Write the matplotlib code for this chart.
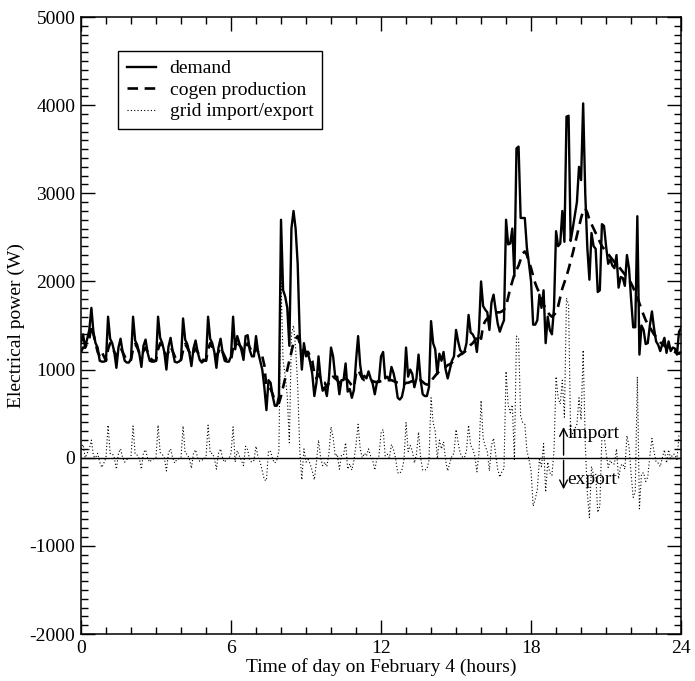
import numpy as np
import matplotlib
matplotlib.use("Agg")
import matplotlib.pyplot as plt
from matplotlib.ticker import MultipleLocator

# 5-minute readings, one row per hour (12 values), plus the final midnight value
demand = [
    1300, 1400, 1250, 1350, 1450, 1700, 1420, 1300, 1250, 1100, 1090, 1090,
    1100, 1600, 1350, 1300, 1200, 1020, 1250, 1350, 1200, 1100, 1080, 1080,
    1120, 1600, 1330, 1280, 1180, 1030, 1270, 1340, 1190, 1100, 1090, 1090,
    1100, 1600, 1360, 1300, 1200, 1000, 1260, 1360, 1210, 1090, 1080, 1090,
    1110, 1580, 1340, 1290, 1190, 1040, 1240, 1330, 1200, 1110, 1080, 1100,
    1100, 1600, 1350, 1300, 1200, 1020, 1250, 1350, 1190, 1100, 1090, 1090,
    1150, 1600, 1230, 1380, 1300, 1220, 1110, 1380, 1390, 1220, 1150, 1150,
    1380, 1200, 1100, 1000, 800, 540, 880, 850, 700, 590, 590, 700,
    2700, 1900, 1830, 1700, 1270, 2600, 2800, 2600, 2200, 1380, 1000, 1300,
    1150, 1180, 1080, 950, 700, 850, 1150, 900, 760, 800, 700, 900,
    1250, 1150, 920, 920, 720, 880, 880, 1070, 750, 780, 680, 770,
    1100, 1380, 1050, 900, 930, 900, 980, 900, 840, 720, 850, 880,
    1150, 1200, 900, 920, 880, 1030, 960, 850, 680, 660, 690, 800,
    1250, 920, 1000, 950, 800, 900, 1170, 880, 720, 700, 700, 800,
    1550, 1300, 1230, 950, 1180, 1100, 1200, 1000, 900, 1000, 1100, 1150,
    1450, 1320, 1220, 1190, 1200, 1300, 1620, 1420, 1400, 1350, 1200, 1450,
    2000, 1720, 1680, 1650, 1450, 1760, 1850, 1680, 1520, 1430, 1500, 1560,
    2700, 2420, 2430, 2600, 2060, 3510, 3530, 2720, 2720, 2720, 2380, 2200,
    2000, 1510, 1510, 1560, 1850, 1700, 1900, 1300, 1600, 1450, 1400, 1700,
    2570, 2400, 2430, 2800, 2450, 3870, 3880, 2460, 2600, 2750, 2900, 3300,
    3150, 4020, 3000, 2380, 2020, 2550, 2400, 2370, 1880, 1900, 2650, 2630,
    2400, 2200, 2250, 2180, 2150, 2300, 1930, 2050, 2040, 1950, 2300, 2150,
    1800, 1480, 1480, 2740, 1170, 1500, 1450, 1290, 1300, 1500, 1660, 1470,
    1320, 1280, 1210, 1290, 1360, 1190, 1320, 1210, 1250, 1240, 1170, 1430,
    1470,
]

cogen = [
    1200, 1250, 1250, 1300, 1350, 1500, 1400, 1300, 1200, 1150, 1200, 1150,
    1100, 1230, 1300, 1250, 1200, 1150, 1200, 1250, 1200, 1150, 1100, 1100,
    1110, 1240, 1290, 1250, 1190, 1160, 1210, 1250, 1200, 1150, 1110, 1100,
    1100, 1230, 1300, 1260, 1200, 1150, 1200, 1260, 1210, 1150, 1100, 1100,
    1110, 1220, 1290, 1250, 1200, 1160, 1190, 1240, 1200, 1150, 1110, 1110,
    1100, 1230, 1300, 1250, 1200, 1150, 1200, 1250, 1200, 1150, 1100, 1100,
    1100, 1250, 1280, 1300, 1280, 1250, 1200, 1250, 1300, 1250, 1200, 1180,
    1250, 1200, 1150, 1150, 1050, 800, 800, 780, 720, 650, 620, 620,
    700, 800, 900, 1000, 1100, 1200, 1300, 1350, 1380, 1300, 1250, 1200,
    1200, 1200, 1150, 1100, 950, 900, 950, 900, 850, 850, 800, 850,
    900, 920, 900, 880, 850, 850, 850, 900, 880, 850, 820, 800,
    950, 1000, 950, 900, 880, 880, 880, 880, 870, 860, 860, 860,
    870, 880, 880, 880, 880, 880, 870, 860, 850, 840, 830, 830,
    850, 850, 860, 870, 860, 860, 880, 880, 860, 840, 830, 830,
    870, 900, 930, 960, 980, 1000, 1020, 1030, 1050, 1060, 1080, 1100,
    1130, 1150, 1170, 1180, 1200, 1220, 1250, 1280, 1300, 1330, 1360, 1400,
    1350, 1500, 1550, 1580, 1600, 1620, 1630, 1640, 1650, 1650, 1660, 1680,
    1720, 1820, 1920, 2000, 2080, 2130, 2180, 2250, 2320, 2340, 2300, 2220,
    2150, 2060, 1980, 1920, 1870, 1800, 1740, 1690, 1650, 1620, 1600, 1620,
    1650, 1720, 1820, 1920, 1990, 2060, 2140, 2230, 2320, 2420, 2520, 2620,
    2720, 2800, 2830, 2780, 2700, 2650, 2600, 2550, 2500, 2450, 2400, 2370,
    2340, 2310, 2280, 2250, 2220, 2200, 2170, 2140, 2110, 2080, 2050, 2020,
    1980, 1930, 1870, 1820, 1750, 1680, 1620, 1560, 1520, 1480, 1440, 1400,
    1370, 1340, 1310, 1290, 1270, 1250, 1230, 1220, 1210, 1200, 1190, 1180,
    1200,
]

labels = ["demand", "cogen production", "grid import/export"]

demand = np.array(demand, dtype=float)
cogen = np.array(cogen, dtype=float)
grid = demand - cogen                      # positive = import, negative = export
hours = np.arange(len(demand)) * 5 / 60.0  # 5-minute samples

plt.rcParams['font.family'] = ['Liberation Serif', 'DejaVu Serif']
plt.rcParams['font.size'] = 14
plt.rcParams['axes.unicode_minus'] = False

fig = plt.figure(figsize=(6.95, 6.81), dpi=100)
ax = fig.add_axes([0.1165, 0.069, 0.8635, 0.906])

ax.axhline(0, color='black', lw=1.0, zorder=1)
ax.plot(hours, demand, color='black', lw=1.7, label=labels[0], zorder=3)
ax.plot(hours, cogen, color='black', lw=1.9, dashes=(4, 2.5), label=labels[1], zorder=4)
ax.plot(hours, grid, color='black', lw=0.8, linestyle=(0, (1, 2)), label=labels[2], zorder=2)

ax.annotate('', xy=(19.3, 380), xytext=(19.3, -2),
            arrowprops=dict(arrowstyle='->', color='black', lw=1.0))
ax.annotate('', xy=(19.3, -390), xytext=(19.3, 2),
            arrowprops=dict(arrowstyle='->', color='black', lw=1.0))
ax.text(19.45, 270, 'import', ha='left', va='center')
ax.text(19.45, -250, 'export', ha='left', va='center')

ax.set_xlim(0, 24)
ax.set_ylim(-2000, 5000)
ax.xaxis.set_major_locator(MultipleLocator(6))
ax.xaxis.set_minor_locator(MultipleLocator(1))
ax.yaxis.set_major_locator(MultipleLocator(1000))
ax.yaxis.set_minor_locator(MultipleLocator(100))
ax.tick_params(which='both', direction='in', top=True, right=True, width=1.0)
ax.tick_params(which='major', length=10, pad=4)
ax.tick_params(which='minor', length=5)
for s in ax.spines.values():
    s.set_linewidth(1.1)

ax.set_xlabel("Time of day on February 4 (hours)", labelpad=1)
ax.set_ylabel("Electrical power (W)", labelpad=3)

leg = ax.legend(loc='upper left', bbox_to_anchor=(0.062, 0.945), borderaxespad=0,
                fancybox=False, framealpha=1, edgecolor='black',
                handlelength=1.5, handletextpad=0.7, labelspacing=0.2,
                borderpad=0.45, fontsize=14)
leg.get_frame().set_linewidth(1.0)

fig.savefig("out.png", dpi=100)
